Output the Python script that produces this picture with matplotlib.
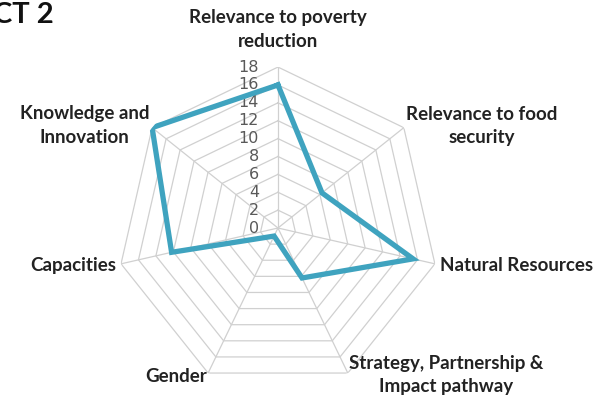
import numpy as np
import matplotlib
matplotlib.use("Agg")
import matplotlib.pyplot as plt
import matplotlib.transforms as mtransforms

categories = ["Relevance to poverty\nreduction", "Relevance to food\nsecurity",
              "Natural Resources", "Strategy, Partnership &\nImpact pathway",
              "Gender", "Capacities", "Knowledge and\nInnovation"]
values = [16, 6.3, 15.5, 6.2, 1, 12.2, 18]
ticks = [0, 2, 4, 6, 8, 10, 12, 14, 16, 18]

n = len(categories)
theta = np.linspace(0, 2 * np.pi, n, endpoint=False)
theta_c = np.append(theta, theta[0])

fig = plt.figure(figsize=(6.04, 4.03), dpi=100)
ax = fig.add_axes([0.1937, 0.0347, 0.533, 0.799], projection="polar")
ax.set_theta_offset(np.pi / 2)
ax.set_theta_direction(-1)
ax.set_ylim(0, 18)
ax.grid(False)
ax.spines["polar"].set_visible(False)
ax.set_xticks([])
ax.set_yticks([])
ax.patch.set_alpha(0)

grid_col = "#d0d0d0"
for t in ticks[1:]:
    ax.plot(theta_c, [t] * (n + 1), color=grid_col, lw=0.9, zorder=1)
for th in theta:
    ax.plot([th, th], [0, 18], color=grid_col, lw=0.9, zorder=1)

vals_c = values + values[:1]
ax.plot(theta_c, vals_c, color="#3fa3bf", lw=3.8, zorder=3, solid_joinstyle="miter")

off = mtransforms.offset_copy(ax.transData, fig=fig, x=-19, y=0, units="dots")
for t in ticks:
    ax.text(0, t, str(t), transform=off, ha="right", va="center",
            fontsize=11.5, color="#595959", family="DejaVu Sans", zorder=2)

lab = dict(fontsize=13.5, fontweight="bold", color="#222222", family="Lato",
           multialignment="center", linespacing=1.45)
ax.text(theta[0], 22.2, categories[0], ha="center", va="center", **lab)
ax.text(theta[1], 18.3, categories[1], ha="left", va="center", **lab)
ax.text(theta[2], 18.6, categories[2], ha="left", va="center", **lab)
ax.text(theta[3], 18.2, categories[3], ha="left", va="center", **lab)
ax.text(theta[4], 18.4, categories[4], ha="right", va="center", **lab)
ax.text(theta[5], 18.6, categories[5], ha="right", va="center", **lab)
ax.text(theta[6], 18.4, categories[6], ha="right", va="center", **lab)

fig.text(-0.012, 0.995, "CT 2", ha="left", va="top", fontsize=21,
         fontweight="bold", color="#111111", family="Lato")

fig.savefig("out.png", dpi=100)
